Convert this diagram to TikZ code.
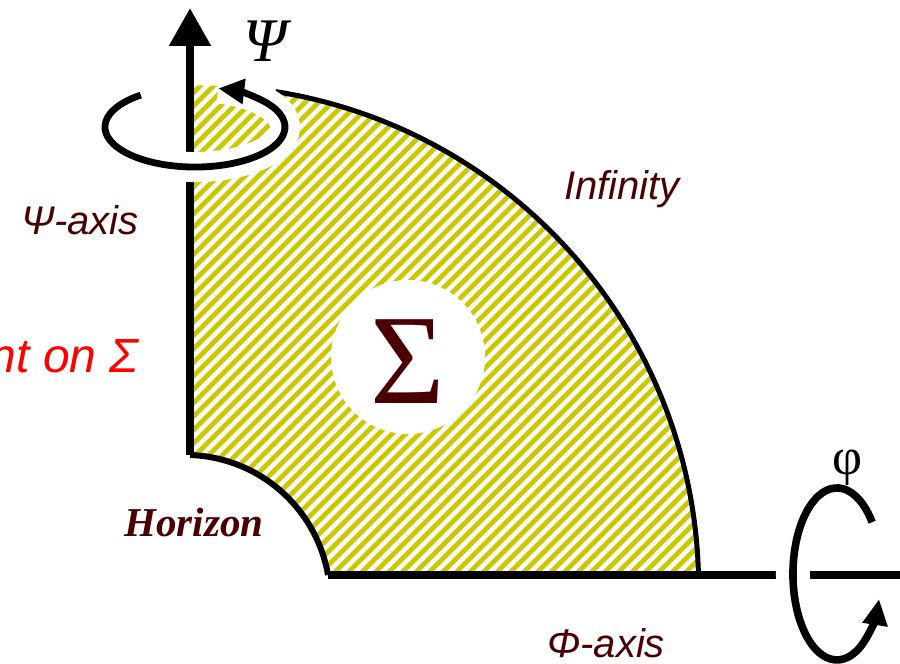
\documentclass[tikz,border=0pt]{standalone}
\usepackage{fontspec}
\setmainfont{Liberation Serif}
\setsansfont{Liberation Sans}
\usetikzlibrary{arrows.meta}
\definecolor{deepmaroon}{HTML}{4A0000}
\definecolor{hatchyellow}{HTML}{CCC800}
\tikzset{axisline/.style={line width=4.2pt}, rim/.style={line width=2.5pt}, spin/.style={line width=3.4pt, -{Triangle[length=13pt,width=12pt]}}, halo/.style={white, line width=15pt}, hatch/.style={hatchyellow, line width=2.4pt}, lab/.style={font=\sffamily\itshape\fontsize{20}{24}\selectfont, text=deepmaroon, inner sep=0pt}, sym/.style={font=\fontsize{26}{28}\selectfont, inner sep=0pt}}

\begin{document}
\begin{tikzpicture}[x=0.5pt,y=0.5pt]
\useasboundingbox (0,0) rectangle (900,664);
% hatched region between horizon and infinity
\begin{scope}
\clip (190,209) -- (190,578.5) arc[start angle=90.8,end angle=1.4,radius=501.6] -- (328,89) arc[start angle=9.9,end angle=88,radius=145] -- cycle;
\foreach \c in {-405,-391.5,...,630} \draw[hatch] (\c,0) -- ++(700,700);
\end{scope}
\fill[white] (408,307) circle (77);
\node[sym,text=deepmaroon,font=\fontsize{64}{70}\selectfont] (sigma) at (408,302) {Σ};
\draw[rim] (275.5,572.4) arc[start angle=81,end angle=1.4,radius=501.6];
\draw[line width=3pt] (328,89) arc[start angle=9.9,end angle=88,radius=145];
\draw[axisline,-{Triangle[length=19pt,width=20pt]}] (190,209) -- (190,656);
\draw[axisline] (328,89) -- (900,89);
% rotations
\draw[halo] (140.8,568.9) arc[start angle=127,end angle=435,x radius=90,y radius=40];
\draw[spin] (140.8,568.9) arc[start angle=127,end angle=435,x radius=90,y radius=40];
\draw[halo,line width=17pt] (872.1,141.8) arc[start angle=37,end angle=343,x radius=44,y radius=86];
\draw[spin,line width=3.8pt] (872.1,141.8) arc[start angle=37,end angle=343,x radius=44,y radius=86];
\node[sym,font=\itshape\fontsize{31}{34}\selectfont] (psi) at (265,623) {Ψ};
\node[sym] (phi) at (847,196) {φ};
% labels
\node[lab,anchor=base] (psiaxis) at (80,429) {Ψ-axis};
\node[lab,anchor=base] (infinity) at (622,464) {Infinity};
\node[lab,anchor=base] (phiaxis) at (606,6) {Φ-axis};
\node[lab,text=red,font=\sffamily\itshape\fontsize{24}{28}\selectfont,anchor=base east] (constant) at (139,291) {nt on Σ};
\node[lab,font=\bfseries\itshape\fontsize{20.5}{24}\selectfont,anchor=base] (horizon) at (194,127) {Horizon};
\end{tikzpicture}
\end{document}
